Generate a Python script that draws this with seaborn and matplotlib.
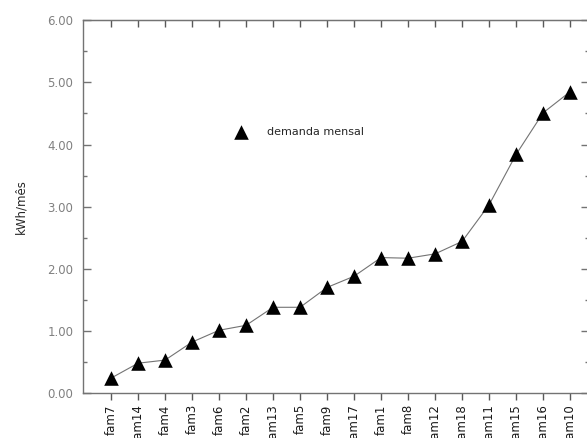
import matplotlib
matplotlib.use('Agg')
import matplotlib.pyplot as plt
import numpy as np
import seaborn as sns
from matplotlib.ticker import MultipleLocator

# Data
families = ['fam7', 'fam14', 'fam4', 'fam3', 'fam6', 'fam2', 'fam13', 'fam5', 'fam9',
            'fam17', 'fam1', 'fam8', 'fam12', 'fam18', 'fam11', 'fam15', 'fam16', 'fam10']
demanda = [0.24, 0.48, 0.53, 0.82, 1.01, 1.09, 1.38, 1.38, 1.70,
           1.88, 2.18, 2.17, 2.24, 2.44, 3.03, 3.84, 4.51, 4.85]
ytick_labels = ['0.00', '1.00', '2.00', '3.00', '4.00', '5.00', '6.00']

sns.set_style('white')
plt.rcParams['font.family'] = ['DejaVu Sans']

fig = plt.figure(figsize=(5.87, 4.38), dpi=100)
ax = fig.add_axes([0.1414, 0.1027, 0.862, 0.851])

pos = np.arange(len(families))
sns.lineplot(x=pos, y=demanda, color='0.45', lw=0.8, ax=ax, zorder=2)
sns.scatterplot(x=pos, y=demanda, marker='^', color='black', s=110,
                linewidth=0, label='demanda mensal', ax=ax, zorder=3)

ax.set_xlim(-1.04, 17.7)
ax.set_ylim(0, 6)
ax.set_xticks(pos)
ax.set_xticklabels(families, rotation=90, fontsize=8.5, color='0.1')
ax.set_yticks(range(7))
ax.set_yticklabels(ytick_labels, fontsize=8.5, color='0.5')
ax.yaxis.set_minor_locator(MultipleLocator(0.5))
ax.set_ylabel('kWh/mês', fontsize=8.5, labelpad=14, color='0.15')

for side in ax.spines:
    ax.spines[side].set_color('0.45')
    ax.spines[side].set_linewidth(1)

ax.tick_params(axis='y', which='major', direction='in', length=6, width=1,
               color='0.45', left=True, right=True, pad=7)
ax.tick_params(axis='y', which='minor', direction='in', length=3, width=1,
               color='0.45', left=True, right=True)
ax.tick_params(axis='x', direction='out', length=5, width=1, color='0.35',
               bottom=True, pad=3)
# inward ticks on top edge
top = ax.secondary_xaxis('top')
top.set_xticks(pos)
top.tick_params(direction='in', length=5, width=1, color='0.35', labeltop=False)
top.spines['top'].set_color('0.45')

ax.legend(loc='center left', bbox_to_anchor=(0.27, 0.70), frameon=False,
          fontsize=8, handletextpad=1.4, markerscale=1.0)

fig.savefig('out.png', dpi=100)
